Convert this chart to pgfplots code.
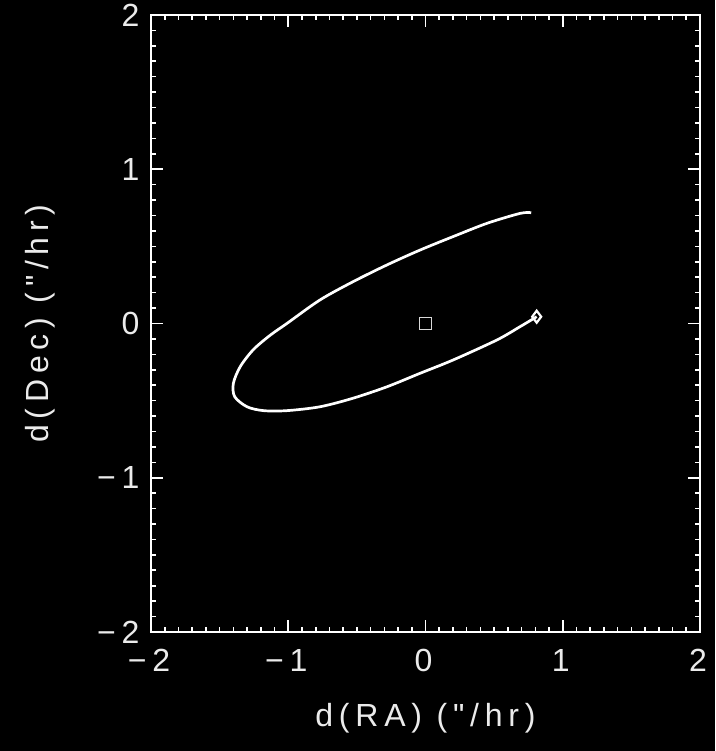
\documentclass[border=0pt]{standalone}
\usepackage{fontspec}
\setmainfont{Liberation Sans}[Ligatures=TeXOff, LetterSpace=18]
\usepackage{pgfplots}
\pgfplotsset{compat=1.18}
\begin{document}
\begin{tikzpicture}
\fill[black] (0,0) rectangle (715pt,751pt);
\path[use as bounding box] (0,0) rectangle (715pt,751pt);
\begin{axis}[
  at={(151pt,119pt)}, anchor=south west,
  width=549pt, height=617pt, scale only axis,
  xmin=-2, xmax=2, ymin=-2, ymax=2,
  axis line style={white, line width=2pt},
  tick style={white, line width=1.6pt},
  major tick length=12pt, minor tick length=5pt,
  minor tick num=9, tick align=inside,
  xtick={-2,-1,0,1,2}, ytick={-2,-1,0,1,2},
  xticklabels={−2,−1,0,1,2}, yticklabels={−2,−1,0,1,2},
  ticklabel style={white!92!black, font=\fontsize{32}{38}\selectfont},
  xticklabel style={yshift=-14pt, xshift=-2pt},
  yticklabel style={xshift=-8pt},
  xlabel={d(RA) ("/hr)}, ylabel={d(Dec) ("/hr)},
  label style={white!92!black, font=\fontsize{32}{38}\selectfont},
  xlabel style={at={(axis description cs:0.5,-0.1394)}, anchor=center},
  ylabel style={at={(axis description cs:-0.2022,0.5)}, anchor=center},
]
\addplot[white, line width=2.7pt, smooth, tension=0.5] coordinates {
(0.77,0.718) (0.69,0.714) (0.45,0.65) (0.20,0.563) (-0.04,0.476)
(-0.28,0.38) (-0.53,0.27) (-0.77,0.152) (-1.01,0.0) (-1.13,-0.075)
(-1.255,-0.17) (-1.35,-0.28) (-1.40,-0.388) (-1.39,-0.475) (-1.30,-0.54)
(-1.18,-0.565) (-1.01,-0.565) (-0.77,-0.54) (-0.53,-0.485) (-0.28,-0.41)
(-0.04,-0.323) (0.20,-0.237) (0.52,-0.107) (0.69,-0.02) (0.81,0.044)
};
\addplot[only marks, mark=square, mark size=6pt, white!85!black, mark options={line width=1.3pt}] coordinates {(0,0)};
\addplot[only marks, mark=diamond, mark size=6pt, white, mark options={line width=2.2pt}] coordinates {(0.81,0.044)};
\end{axis}
\end{tikzpicture}
\end{document}
